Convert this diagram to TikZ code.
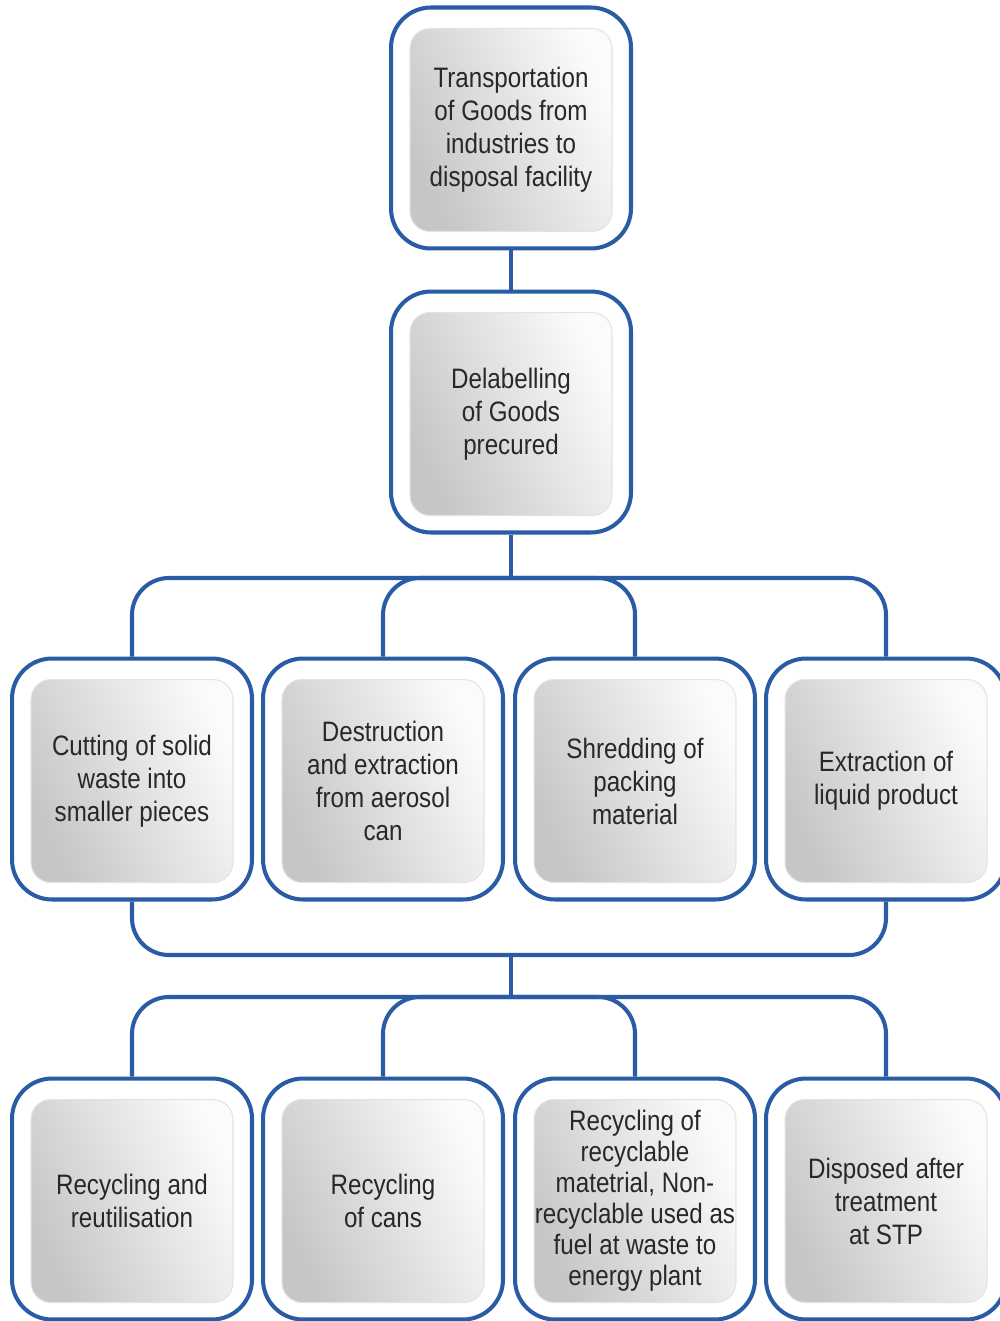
\documentclass[tikz,border=0pt]{standalone}
\usepackage{fontspec}
\setmainfont{Liberation Sans}[FakeStretch=0.86]
\usetikzlibrary{calc}
\definecolor{linkblue}{RGB}{41,92,164}
\definecolor{inktext}{RGB}{40,40,40}
\begin{document}
\begin{tikzpicture}[x=0.02cm,y=-0.02cm,
  frame/.style={draw=linkblue, line width=2.3pt, fill=white, rounded corners=0.8cm,
    minimum width=4.8cm, minimum height=4.82cm, inner sep=0pt},
  panel/.style={rounded corners=0.4cm, minimum width=4.04cm, minimum height=4.06cm,
    left color=gray!45, right color=gray!3, shading angle=115,
    draw=gray!22, line width=0.6pt, align=center, text=inktext, inner sep=0pt,
    font=\fontsize{16}{18.8}\selectfont},
  tight/.style={font=\fontsize{16}{17.6}\selectfont},
  link/.style={draw=linkblue, line width=2.3pt, rounded corners=0.74cm}]
\useasboundingbox (0,0) rectangle (1000,1321);
\fill[white] (0,0) rectangle (1000,1321);
\clip (0,0) rectangle (1000,1321);

% top chain
\node[frame] (top) at (511,128) {};
\node[panel] (topP) at (511,130) {Transportation\\of Goods from\\industries to\\disposal facility};
\node[frame] (del) at (511,412) {};
\node[panel] (delP) at (511,414) {Delabelling\\of Goods\\precured};

% processing row
\node[frame] (cut) at (132,779) {};
\node[panel] (cutP) at (132,781) {Cutting of solid\\waste into\\smaller pieces};
\node[frame] (aero) at (383,779) {};
\node[panel] (aeroP) at (383,781) {Destruction\\and extraction\\from aerosol\\can};
\node[frame] (shred) at (635,779) {};
\node[panel] (shredP) at (635,781) {Shredding of\\packing\\material};
\node[frame] (liquid) at (886,779) {};
\node[panel] (liquidP) at (886,781) {Extraction of\\liquid product};

% outcome row
\node[frame] (reuse) at (132,1199) {};
\node[panel] (reuseP) at (132,1201) {Recycling and\\reutilisation};
\node[frame] (cans) at (383,1199) {};
\node[panel] (cansP) at (383,1201) {Recycling\\of cans};
\node[frame] (fuel) at (635,1199) {};
\node[panel,tight] (fuelP) at (635,1201) {Recycling of\\recyclable\\matetrial, Non-\\recyclable used as\\fuel at waste to\\energy plant};
\node[frame] (stp) at (886,1199) {};
\node[panel] (stpP) at (886,1201) {Disposed after\\treatment\\at STP};

% connectors
\coordinate (busA) at (511,578);
\coordinate (busB) at (511,955);
\coordinate (busC) at (511,997);
\draw[link] (top.south) -- (del.north);
\draw[link] (del.south) -- (busA);
\draw[link] (cut.north) |- (busA) -| (liquid.north);
\draw[link] (aero.north) |- (busA) -| (shred.north);
\draw[link] (cut.south) |- (busB) -| (liquid.south);
\draw[link] (busB) -- (busC);
\draw[link] (reuse.north) |- (busC) -| (stp.north);
\draw[link] (cans.north) |- (busC) -| (fuel.north);
\end{tikzpicture}
\end{document}
